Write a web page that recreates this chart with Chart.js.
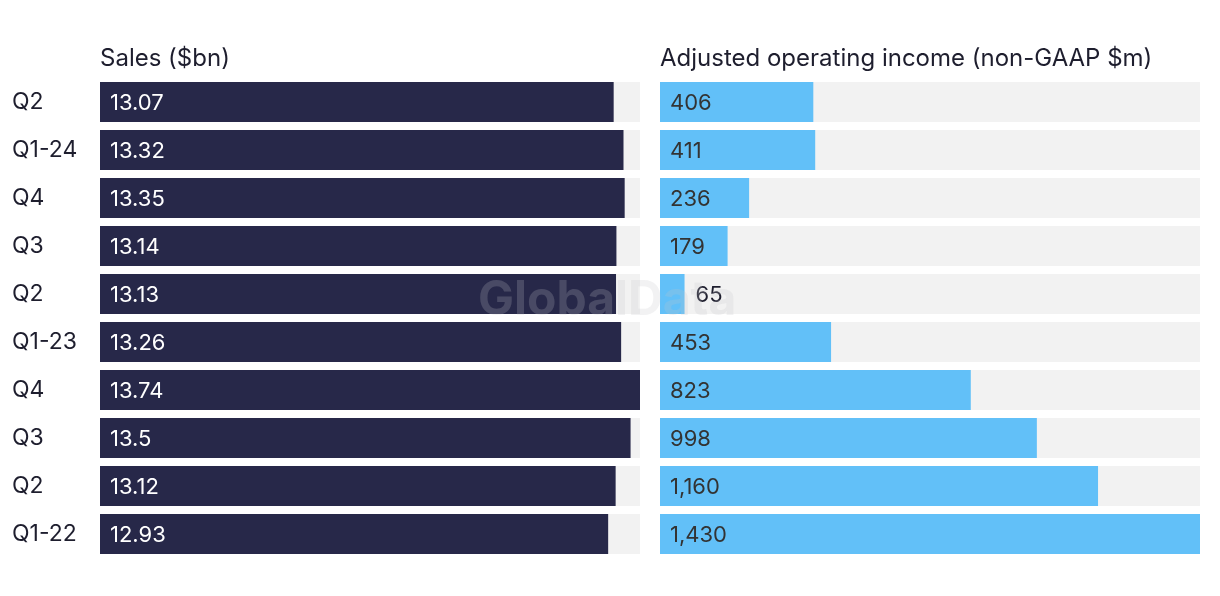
<!DOCTYPE html>
<html>
<head>
<meta charset="utf-8">
<script src="https://cdn.jsdelivr.net/npm/chart.js@4.4.1/dist/chart.umd.min.js"></script>
<style>
  body { margin: 0; background: #fff; width: 1220px; height: 596px; position: relative; overflow: hidden; }
  .box { position: absolute; top: 0; height: 596px; }
  #leftBox { left: 0; width: 640px; }
  #rightBox { left: 660px; width: 540px; }
  .title { position: absolute; top: 43px; font: 24px Inter, sans-serif; color: #1e1e2e; white-space: nowrap; }
  #watermark { position: absolute; left: 478px; top: 268px; font: bold 48px Inter, sans-serif; letter-spacing: 0px; color: rgba(194,194,200,0.22); pointer-events: none; }
</style>
</head>
<body>
<div class="box" id="leftBox"><canvas id="salesChart"></canvas></div>
<div class="box" id="rightBox"><canvas id="incomeChart"></canvas></div>
<div class="title" style="left:100px">Sales ($bn)</div>
<div class="title" style="left:660px">Adjusted operating income (non-GAAP $m)</div>
<div id="watermark">GlobalData</div>
<script>
// ---------- DATA ----------
const quarters = ["Q2", "Q1-24", "Q4", "Q3", "Q2", "Q1-23", "Q4", "Q3", "Q2", "Q1-22"];
const sales = [13.07, 13.32, 13.35, 13.14, 13.13, 13.26, 13.74, 13.5, 13.12, 12.93];
const income = [406, 411, 236, 179, 65, 453, 823, 998, 1160, 1430];

const FONT = "22px Inter, sans-serif";
const DARK = "#272849";
const BLUE = "#62c0f8";
const TRACK = "#f2f2f2";
const TEXT = "#1e1e2e";

// grey track behind each bar + value label
const barDecor = {
  id: "barDecor",
  beforeDatasetsDraw(chart) {
    const { ctx, chartArea } = chart;
    ctx.save();
    ctx.fillStyle = TRACK;
    chart.getDatasetMeta(0).data.forEach(bar => {
      const { y, height } = bar.getProps(["y", "height"], true);
      ctx.fillRect(chartArea.left, y - height / 2, chartArea.width, height);
    });
    ctx.restore();
  },
  afterDatasetsDraw(chart, args, opts) {
    const { ctx } = chart;
    const values = chart.data.datasets[0].data;
    ctx.save();
    ctx.font = FONT;
    ctx.textBaseline = "middle";
    ctx.textAlign = "left";
    chart.getDatasetMeta(0).data.forEach((bar, i) => {
      const { x, y, base } = bar.getProps(["x", "y", "base"], true);
      const txt = values[i].toLocaleString("en-US");
      const w = ctx.measureText(txt).width;
      if (w + 12 > x - base) {
        ctx.fillStyle = TEXT;
        ctx.fillText(txt, x + 11, y + 1);
      } else {
        ctx.fillStyle = opts.inside;
        ctx.fillText(txt, base + 10, y + 1);
      }
    });
    ctx.restore();
  }
};

function makeChart(canvas, values, color, maxVal, showLabels, insideColor) {
  const yAxis = {
    display: showLabels,
    grid: { display: false },
    border: { display: false },
    ticks: { crossAlign: "far", color: TEXT, font: { family: "Inter", size: 23 } }
  };
  if (showLabels) yAxis.afterFit = s => { s.width = 88; };
  return new Chart(canvas, {
    type: "bar",
    data: {
      labels: quarters,
      datasets: [{ data: values, backgroundColor: color, barPercentage: 40 / 48, categoryPercentage: 1 }]
    },
    options: {
      indexAxis: "y",
      responsive: true,
      maintainAspectRatio: false,
      animation: false,
      layout: { padding: { top: 78, bottom: 38, left: showLabels ? 12 : 0, right: 0 } },
      plugins: {
        legend: { display: false },
        tooltip: { enabled: false },
        barDecor: { inside: insideColor }
      },
      scales: {
        x: { display: false, min: 0, max: maxVal },
        y: yAxis
      }
    },
    plugins: [barDecor]
  });
}

makeChart(document.getElementById("salesChart"), sales, DARK, 13.74, true, "#ffffff");
makeChart(document.getElementById("incomeChart"), income, BLUE, 1430, false, "#333333");
</script>
</body>
</html>
